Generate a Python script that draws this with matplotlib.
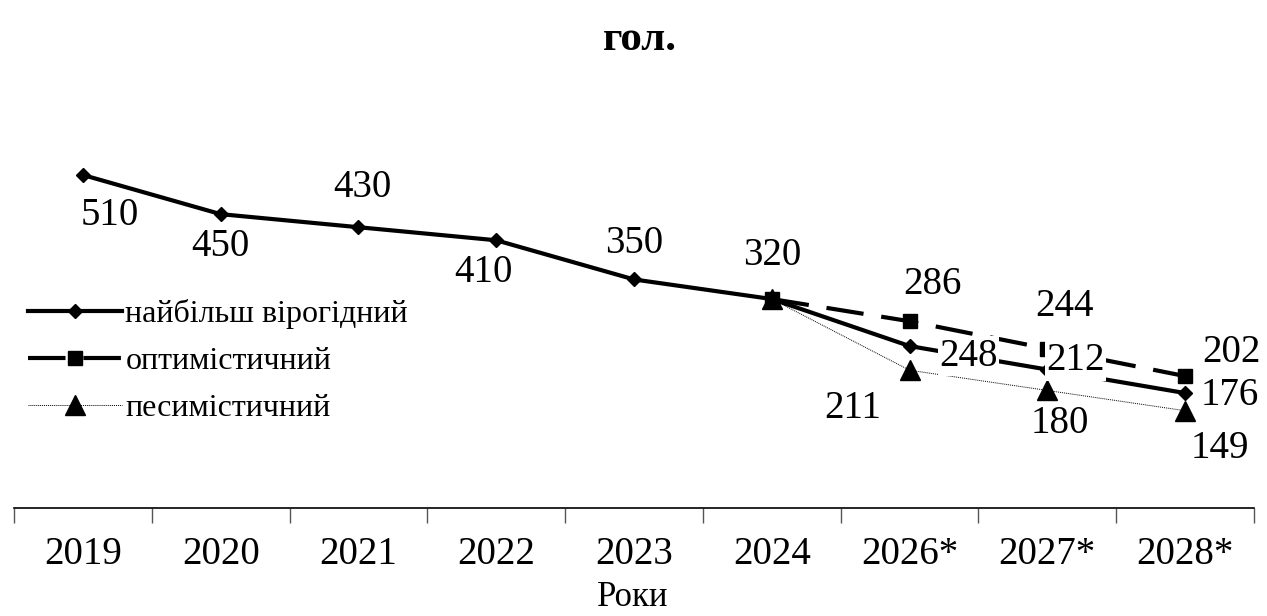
import matplotlib
matplotlib.use('Agg')
import matplotlib.pyplot as plt

plt.rcParams['font.family'] = ['Liberation Serif', 'DejaVu Serif']

# data
years = ['2019', '2020', '2021', '2022', '2023', '2024', '2026*', '2027*', '2028*']
likely = [510, 450, 430, 410, 350, 320, 248, 212, 176]
optimistic = [None, None, None, None, None, 320, 286, 244, 202]
pessimistic = [None, None, None, None, None, 320, 211, 180, 149]

# label offsets in pixels (dx, dy), None = no label
likely_off = [(27, -41), (0, -32), (4, 40), (-13, -32), (0, 36), (0, 44), (59, -10), (28, 9), (45, -2)]
opt_off = [None] * 6 + [(23, 37), (17, 42), (46, 24)]
pes_off = [None] * 6 + [(-57, -38), (12, -33), (35, -38)]

fig = plt.figure(figsize=(12.67, 6.16), dpi=100)
ax = fig.add_axes([14 / 1267, (616 - 508) / 616, 1240 / 1267, 420 / 616])

x = list(range(len(years)))

def pts(vals):
    xs = [i for i, v in enumerate(vals) if v is not None]
    ys = [v for v in vals if v is not None]
    return xs, ys

xs, ys = pts(likely)
ax.plot(xs, ys, color='black', lw=3, marker='D', ms=7, zorder=3, label='найбільш вірогідний')
xs, ys = pts(optimistic)
ax.plot(xs, ys, color='black', lw=3, ls=(0, (9, 4.3)), marker='s', ms=10, zorder=3, label='оптимістичний')
xs, ys = pts(pessimistic)
ax.plot(xs, ys, color='black', lw=0.7, ls=(0, (1, 1)), marker='^', ms=14, zorder=3, label='песимістичний')

fs = 28
box = dict(facecolor='white', edgecolor='none', pad=1)
for vals, offs in [(pessimistic, pes_off), (optimistic, opt_off), (likely, likely_off)]:
    for i, (v, o) in enumerate(zip(vals, offs)):
        if v is None or o is None:
            continue
        ax.annotate(str(v), (i, v), xytext=o, textcoords='offset pixels',
                    ha='center', va='center', fontsize=fs, bbox=box, zorder=5)

ax.set_xlim(-0.5, len(years) - 0.5)
ax.set_ylim(0, 420 / 0.653)
for s in ['top', 'right', 'left']:
    ax.spines[s].set_visible(False)
ax.spines['bottom'].set_linewidth(1.2)
ax.set_yticks([])
ax.set_xticks(x)
ax.set_xticklabels(years, fontsize=fs)
ax.tick_params(axis='x', which='major', length=0, pad=20.5)
ax.set_xticks([i - 0.5 for i in range(len(years) + 1)], minor=True)
ax.tick_params(axis='x', which='minor', length=11, width=1, color='#555555', direction='out')

# axis title placed on the figure so it stays inside the canvas
fig.text(633 / 1267, 1 - 606 / 616, 'Роки', ha='center', va='baseline', fontsize=25)

fig.text(640 / 1267, 1 - 40 / 616, 'гол.', ha='center', va='center', fontsize=31, fontweight='bold')

fig.legend(loc='upper left', bbox_to_anchor=(28 / 1267, 1 - 299 / 616), frameon=False,
           fontsize=23, handlelength=2.95, handletextpad=0.1, labelspacing=0.55, borderpad=0,
           borderaxespad=0)

fig.savefig('out.png', dpi=100)
